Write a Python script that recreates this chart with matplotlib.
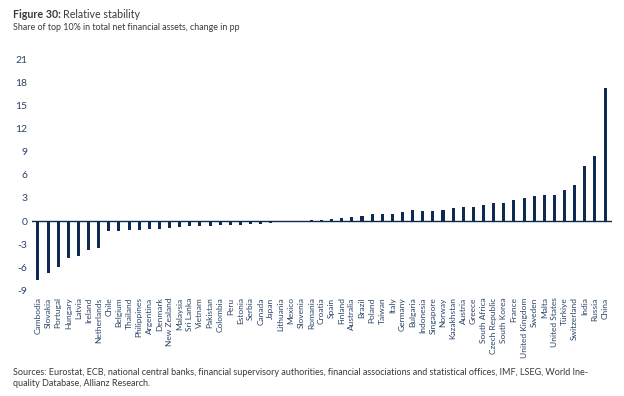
import matplotlib
matplotlib.use("Agg")
import matplotlib.pyplot as plt
import numpy as np

COUNTRIES = [
    "Cambodia", "Slovakia", "Portugal", "Hungary", "Latvia", "Ireland", "Netherlands",
    "Chile", "Belgium", "Thailand", "Philippines", "Argentina", "Denmark", "New Zealand",
    "Malaysia", "Sri Lanka", "Vietnam", "Pakistan", "Colombia", "Peru", "Estonia", "Serbia",
    "Canada", "Japan", "Lithuania", "Mexico", "Slovenia", "Romania", "Croatia", "Spain",
    "Finland", "Australia", "Brazil", "Poland", "Taiwan", "Italy", "Germany", "Bulgaria",
    "Indonesia", "Singapore", "Norway", "Kazakhstan", "Austria", "Greece", "South Africa",
    "Czech Republic", "South Korea", "France", "United Kingdom", "Sweden", "Malta",
    "United States", "Türkiye", "Switzerland", "India", "Russia", "China",
]
CHANGE_PP = [
    -7.7, -6.7, -6.0, -4.75, -4.5, -3.7, -3.55,
    -1.35, -1.3, -1.2, -1.2, -1.05, -1.05, -0.9,
    -0.75, -0.7, -0.7, -0.6, -0.55, -0.5, -0.45, -0.4,
    -0.35, -0.2, -0.1, -0.05, 0.03, 0.08, 0.15, 0.25,
    0.35, 0.5, 0.7, 0.85, 0.9, 0.95, 1.2, 1.4,
    1.35, 1.35, 1.4, 1.7, 1.85, 1.85, 2.05,
    2.3, 2.3, 2.7, 3.0, 3.2, 3.4,
    3.4, 4.0, 4.65, 7.1, 8.4, 17.2,
]
Y_TICKS = [-9, -6, -3, 0, 3, 6, 9, 12, 15, 18, 21]

NAVY = "#0f2a52"
TICK_COLOR = "#2b4468"
TEXT_COLOR = "#3a3a3a"
FONT = ["Lato", "DejaVu Sans"]

plt.rcParams["font.family"] = FONT

fig = plt.figure(figsize=(6.24, 3.96), dpi=100)
fig.patch.set_facecolor("white")
ax = fig.add_axes([0.051, 0.2664, 0.930, 0.5846])

x = np.arange(len(COUNTRIES))
ax.bar(x, CHANGE_PP, width=0.3, color=NAVY, zorder=3)
ax.axhline(0, color=NAVY, linewidth=1.0, zorder=4)

ax.set_xlim(-0.6, len(COUNTRIES) - 0.3)
ax.set_ylim(-9, 21)
ax.set_yticks(Y_TICKS)
ax.set_yticklabels([str(v) for v in Y_TICKS])
ax.set_xticks(x)
ax.set_xticklabels(COUNTRIES, rotation=90, fontsize=6.0, color=TICK_COLOR)
ax.tick_params(axis="x", length=0, pad=5)
ax.tick_params(axis="y", length=0, pad=3, labelsize=7.5, labelcolor=TICK_COLOR)
for spine in ax.spines.values():
    spine.set_visible(False)

# title: bold lead-in followed by normal text
renderer = fig.canvas.get_renderer()
t1 = fig.text(0.021, 1 - 15 / 396, "Figure 30:", fontsize=7.7, fontweight="bold",
              color=TEXT_COLOR, va="center", ha="left")
bb = t1.get_window_extent(renderer=renderer)
fig.text(bb.x1 / fig.bbox.width + 0.003, 1 - 15 / 396, "Relative stability", fontsize=7.7,
         color=TEXT_COLOR, va="center", ha="left")
fig.text(0.021, 1 - 27 / 396, "Share of top 10% in total net financial assets, change in pp",
         fontsize=6.4, color=TEXT_COLOR, va="center", ha="left")

fig.text(0.021, 1 - 378 / 396,
         "Sources: Eurostat, ECB, national central banks, financial supervisory authorities, "
         "financial associations and statistical offices, IMF, LSEG, World Ine-\n"
         "quality Database, Allianz Research.",
         fontsize=6.5, color=TEXT_COLOR, va="center", ha="left", linespacing=1.35)

fig.savefig("out.png", dpi=100, facecolor="white")
